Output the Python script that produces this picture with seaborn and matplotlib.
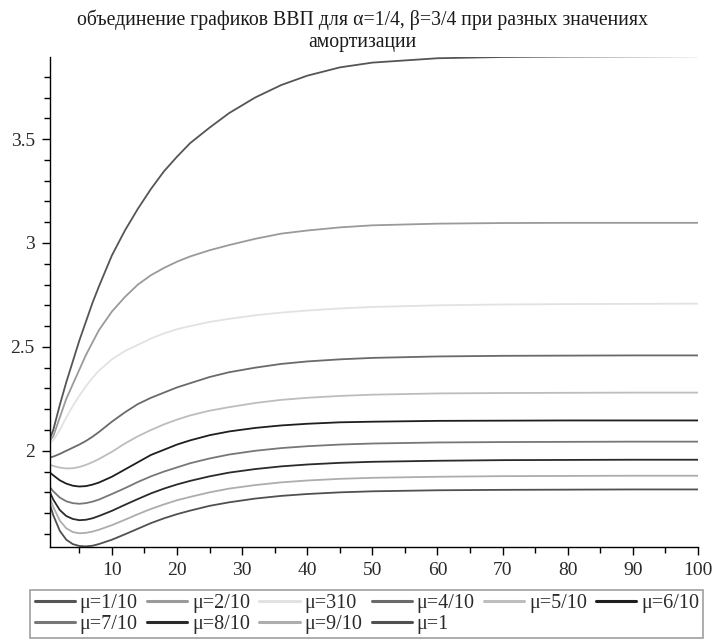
import numpy as np
import pandas as pd
import matplotlib
matplotlib.use("Agg")
import matplotlib.pyplot as plt
from matplotlib.lines import Line2D
from matplotlib.ticker import MultipleLocator
import seaborn as sns

# ---- data ----
t = [0.5, 1, 2, 3, 4, 5, 6, 7, 8, 10, 12, 14, 16, 18, 20, 22, 25, 28, 32, 36,
     40, 45, 50, 60, 70, 80, 90, 100]

mu_labels = ["μ=1/10", "μ=2/10", "μ=310", "μ=4/10", "μ=5/10", "μ=6/10",
             "μ=7/10", "μ=8/10", "μ=9/10", "μ=1"]

y_mu01 = [2.06, 2.10, 2.22, 2.33, 2.43, 2.53, 2.62, 2.71, 2.79, 2.94, 3.06, 3.165,
          3.26, 3.345, 3.415, 3.48, 3.555, 3.625, 3.70, 3.76, 3.805, 3.845, 3.868,
          3.889, 3.895, 3.897, 3.898, 3.899]
y_mu02 = [2.05, 2.07, 2.16, 2.25, 2.32, 2.39, 2.46, 2.52, 2.58, 2.67, 2.74, 2.80,
          2.845, 2.88, 2.91, 2.935, 2.965, 2.99, 3.02, 3.045, 3.06, 3.075, 3.085,
          3.093, 3.096, 3.097, 3.097, 3.097]
y_mu03 = [2.04, 2.05, 2.10, 2.16, 2.215, 2.265, 2.31, 2.35, 2.385, 2.44, 2.48, 2.51,
          2.54, 2.565, 2.585, 2.60, 2.62, 2.635, 2.652, 2.665, 2.675, 2.685, 2.692,
          2.70, 2.704, 2.706, 2.707, 2.708]
y_mu04 = [1.968, 1.972, 1.985, 2.0, 2.015, 2.03, 2.047, 2.067, 2.09, 2.14, 2.185, 2.225,
          2.255, 2.28, 2.305, 2.325, 2.355, 2.378, 2.40, 2.418, 2.43, 2.44, 2.447,
          2.454, 2.457, 2.458, 2.459, 2.459]
y_mu05 = [1.933, 1.927, 1.919, 1.915, 1.916, 1.922, 1.932, 1.945, 1.96, 1.995, 2.035,
          2.07, 2.10, 2.127, 2.15, 2.17, 2.193, 2.21, 2.23, 2.245, 2.255, 2.264, 2.27,
          2.276, 2.278, 2.279, 2.28, 2.28]
y_mu06 = [1.895, 1.882, 1.858, 1.842, 1.832, 1.828, 1.83, 1.837, 1.847, 1.875, 1.91,
          1.945, 1.98, 2.005, 2.03, 2.05, 2.075, 2.093, 2.11, 2.122, 2.13, 2.137, 2.14,
          2.144, 2.145, 2.146, 2.146, 2.146]
y_mu07 = [1.825, 1.805, 1.775, 1.757, 1.748, 1.745, 1.748, 1.755, 1.765, 1.792, 1.82,
          1.85, 1.877, 1.90, 1.92, 1.94, 1.963, 1.982, 2.00, 2.013, 2.022, 2.03, 2.035,
          2.04, 2.042, 2.043, 2.044, 2.044]
y_mu08 = [1.80, 1.765, 1.715, 1.686, 1.672, 1.666, 1.668, 1.675, 1.686, 1.711, 1.74,
          1.768, 1.795, 1.818, 1.838, 1.855, 1.877, 1.895, 1.912, 1.925, 1.934, 1.942,
          1.947, 1.952, 1.955, 1.956, 1.957, 1.957]
y_mu09 = [1.77, 1.73, 1.664, 1.627, 1.609, 1.603, 1.605, 1.611, 1.62, 1.642, 1.668,
          1.695, 1.72, 1.742, 1.762, 1.778, 1.80, 1.818, 1.835, 1.848, 1.857, 1.865,
          1.87, 1.875, 1.878, 1.879, 1.88, 1.88]
y_mu10 = [1.74, 1.69, 1.615, 1.572, 1.551, 1.542, 1.54, 1.543, 1.551, 1.572, 1.598,
          1.625, 1.652, 1.675, 1.695, 1.712, 1.735, 1.752, 1.77, 1.783, 1.792, 1.80,
          1.805, 1.81, 1.812, 1.813, 1.814, 1.814]

series = [y_mu01, y_mu02, y_mu03, y_mu04, y_mu05, y_mu06, y_mu07, y_mu08, y_mu09, y_mu10]
colors = ["#555555", "#9a9a9a", "#e2e2e2", "#6a6a6a", "#bdbdbd", "#1e1e1e",
          "#777777", "#2a2a2a", "#adadad", "#505050"]

rows = []
for lab, ys in zip(mu_labels, series):
    for tt, yy in zip(t, ys):
        rows.append({"t": tt, "Y": yy, "mu": lab})
df = pd.DataFrame(rows)

sns.set_theme(style="white")
plt.rcParams["font.family"] = ["Liberation Serif", "DejaVu Serif"]

fig = plt.figure(figsize=(7.14, 6.41), dpi=100)
ax = fig.add_axes([50 / 714, 1 - 547 / 641, 648 / 714, 490 / 641])

palette = dict(zip(mu_labels, colors))
sns.lineplot(data=df, x="t", y="Y", hue="mu", hue_order=mu_labels, palette=palette,
             estimator=None, legend=False, linewidth=1.3, ax=ax)

ymin = min(min(s) for s in series)
ymax = max(max(s) for s in series)
ax.set_xlim(t[0], t[-1])
ax.set_ylim(ymin - 0.003, ymax - 0.004)

for side in ["top", "right"]:
    ax.spines[side].set_visible(False)
for side in ["left", "bottom"]:
    ax.spines[side].set_color("black")
    ax.spines[side].set_linewidth(1.0)

ax.set_xticks([10, 20, 30, 40, 50, 60, 70, 80, 90, 100])
ax.set_xticklabels(["10", "20", "30", "40", "50", "60", "70", "80", "90", "100"])
ax.xaxis.set_minor_locator(MultipleLocator(5))
ax.set_yticks([2, 2.5, 3, 3.5])
ax.set_yticklabels(["2", "2.5", "3", "3.5"])
ax.yaxis.set_minor_locator(MultipleLocator(0.1))
ax.tick_params(axis="both", which="major", direction="out", length=6, width=1,
               color="black", labelsize=14, labelcolor="#2a2a2a", pad=5,
               bottom=True, left=True)
ax.tick_params(axis="both", which="minor", direction="out", length=4, width=1,
               color="black", bottom=True, left=True)
ax.set_xlabel("")
ax.set_ylabel("")
ax.grid(False)

fig.suptitle("объединение графиков ВВП для α=1/4, β=3/4 при разных значениях\nамортизации",
             x=0.508, y=0.985, fontsize=14.2, color="#1a1a1a", linespacing=1.2)

# legend filled row by row: reorder for matplotlib's column-wise filling
order = [0, 6, 1, 7, 2, 8, 3, 9, 4, 5]
handles = [Line2D([0], [0], color=colors[i], lw=2.2) for i in order]
labels = [mu_labels[i] for i in order]
leg = fig.legend(handles, labels, loc="lower center",
                 bbox_to_anchor=(0.514, 0.004), bbox_transform=fig.transFigure,
                 ncol=6, fontsize=14.5, frameon=True, fancybox=False,
                 edgecolor="#888888", handlelength=2.0, handletextpad=0.25,
                 columnspacing=0.45, borderpad=0.2, labelspacing=0.1,
                 borderaxespad=0.0)
leg.get_frame().set_linewidth(1.2)
for txt in leg.get_texts():
    txt.set_color("#2a2a2a")

fig.savefig("out.png", dpi=100)
